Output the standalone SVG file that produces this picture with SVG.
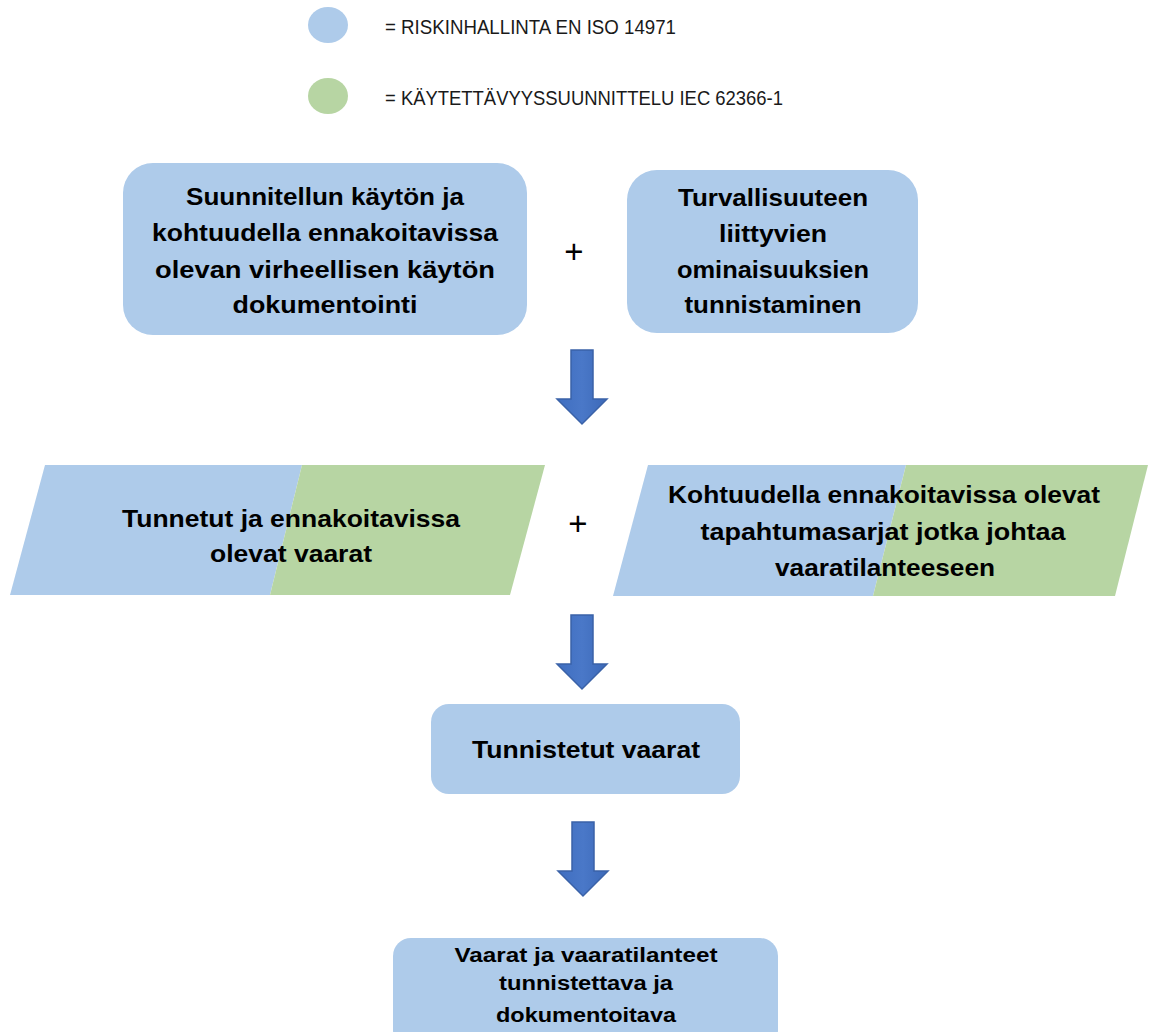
<svg xmlns="http://www.w3.org/2000/svg" width="1157" height="1032" viewBox="0 0 1157 1032">
  <defs>
    <style>
      .blue { fill: #aecbea; }
      .green { fill: #b7d5a3; }
      .t { font-family: "Liberation Sans", Arial, sans-serif; font-weight: bold; fill: #000; text-anchor: middle; }
      .b { font-size: 24px; }
      .s { font-size: 20px; }
      .leg { font-family: "Liberation Sans", Arial, sans-serif; font-size: 20px; fill: #1a1a1a; }
      .plus { font-family: "Liberation Sans", Arial, sans-serif; font-size: 33px; fill: #000; text-anchor: middle; }
      .arrow { fill: url(#arrowFill); stroke: #3a62a8; stroke-width: 1.5; stroke-linejoin: miter; }
    </style>
    <linearGradient id="arrowFill" x1="0" y1="0" x2="1" y2="0">
      <stop offset="0" stop-color="#3f6ec0"/>
      <stop offset="0.5" stop-color="#4a78c8"/>
      <stop offset="1" stop-color="#3c69b8"/>
    </linearGradient>
    <path id="downArrow" d="M-11 0 H11 V49 H25 L0 74 L-25 49 H-11 Z"/>
  </defs>

  <rect width="1157" height="1032" fill="#ffffff"/>

  <!-- legend -->
  <g id="legend">
    <ellipse class="blue" cx="328" cy="25" rx="20" ry="18"/>
    <text class="leg" x="385" y="34" textLength="291" lengthAdjust="spacingAndGlyphs">= RISKINHALLINTA EN ISO 14971</text>
    <ellipse class="green" cx="328" cy="96" rx="20" ry="18"/>
    <text class="leg" x="385" y="105" textLength="398" lengthAdjust="spacingAndGlyphs">= KÄYTETTÄVYYSSUUNNITTELU IEC 62366-1</text>
  </g>

  <!-- first row -->
  <g id="node-use">
    <rect class="blue" x="123" y="163" width="404" height="172" rx="30"/>
    <text class="t b" x="325" y="205" textLength="278" lengthAdjust="spacingAndGlyphs">Suunnitellun käytön ja</text>
    <text class="t b" x="325" y="241" textLength="346" lengthAdjust="spacingAndGlyphs">kohtuudella ennakoitavissa</text>
    <text class="t b" x="325" y="278" textLength="340" lengthAdjust="spacingAndGlyphs">olevan virheellisen käytön</text>
    <text class="t b" x="325" y="313" textLength="185" lengthAdjust="spacingAndGlyphs">dokumentointi</text>
  </g>
  <text class="plus" x="574" y="263">+</text>
  <g id="node-safety">
    <rect class="blue" x="627" y="170" width="291" height="163" rx="30"/>
    <text class="t b" x="773" y="206" textLength="190" lengthAdjust="spacingAndGlyphs">Turvallisuuteen</text>
    <text class="t b" x="773" y="242" textLength="108" lengthAdjust="spacingAndGlyphs">liittyvien</text>
    <text class="t b" x="773" y="278" textLength="192" lengthAdjust="spacingAndGlyphs">ominaisuuksien</text>
    <text class="t b" x="773" y="313" textLength="177" lengthAdjust="spacingAndGlyphs">tunnistaminen</text>
  </g>

  <!-- second row -->
  <g id="node-hazards">
    <polygon class="blue" points="45,465 302,465 270,595 10,595"/>
    <polygon class="green" points="302,465 545,465 510,595 270,595"/>
    <text class="t b" x="291" y="527" textLength="338" lengthAdjust="spacingAndGlyphs">Tunnetut ja ennakoitavissa</text>
    <text class="t b" x="291" y="562" textLength="162" lengthAdjust="spacingAndGlyphs">olevat vaarat</text>
  </g>
  <text class="plus" x="578" y="535">+</text>
  <g id="node-sequences">
    <polygon class="blue" points="648,465 906,465 873,596 613,596"/>
    <polygon class="green" points="906,465 1148,465 1115,596 873,596"/>
    <text class="t b" x="884" y="503" textLength="432" lengthAdjust="spacingAndGlyphs">Kohtuudella ennakoitavissa olevat</text>
    <text class="t b" x="883" y="540" textLength="365" lengthAdjust="spacingAndGlyphs">tapahtumasarjat jotka johtaa</text>
    <text class="t b" x="885" y="576" textLength="220" lengthAdjust="spacingAndGlyphs">vaaratilanteeseen</text>
  </g>

  <!-- third row -->
  <g id="node-identified">
    <rect class="blue" x="431" y="704" width="309" height="90" rx="18"/>
    <text class="t b" x="586" y="758" textLength="228" lengthAdjust="spacingAndGlyphs">Tunnistetut vaarat</text>
  </g>

  <g id="node-document">
    <rect class="blue" x="393" y="938" width="385" height="110" rx="18"/>
    <text class="t s" x="586" y="962" textLength="263" lengthAdjust="spacingAndGlyphs">Vaarat ja vaaratilanteet</text>
    <text class="t s" x="586" y="990" textLength="174" lengthAdjust="spacingAndGlyphs">tunnistettava ja</text>
    <text class="t s" x="586" y="1022" textLength="180" lengthAdjust="spacingAndGlyphs">dokumentoitava</text>
  </g>

  <!-- connectors -->
  <g id="connectors">
    <use href="#downArrow" class="arrow" transform="translate(582,350)"/>
    <use href="#downArrow" class="arrow" transform="translate(582,615)"/>
    <use href="#downArrow" class="arrow" transform="translate(583,822)"/>
  </g>
</svg>
